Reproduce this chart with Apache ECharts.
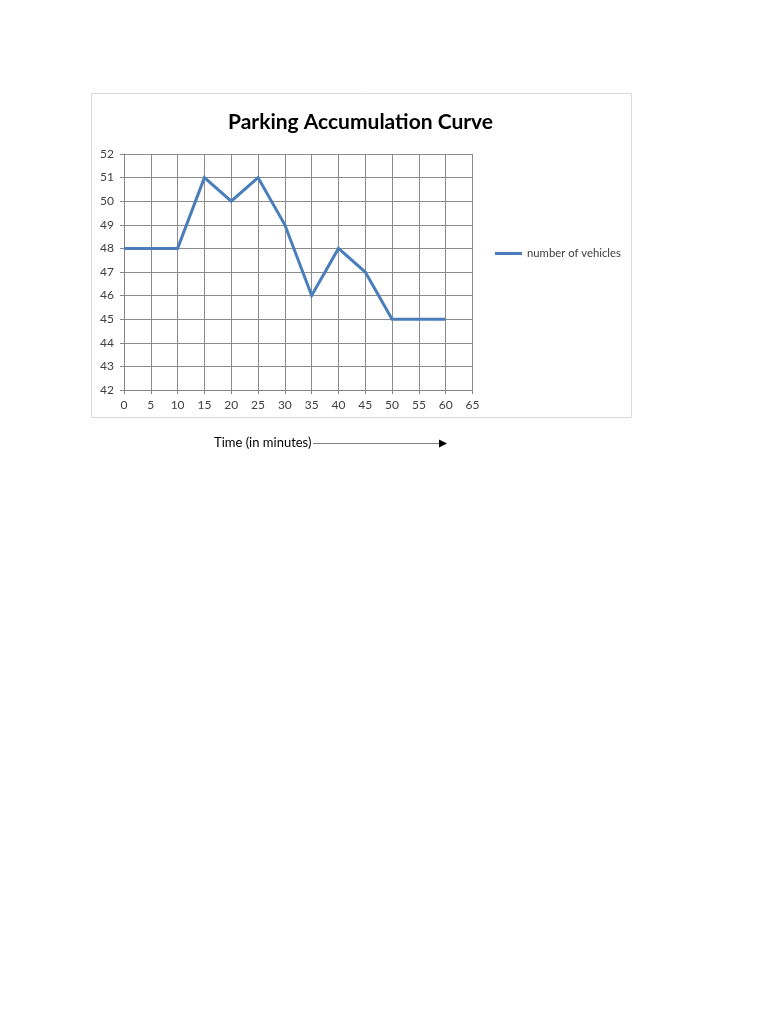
<!DOCTYPE html>
<html>
<head>
<meta charset="utf-8">
<script src="https://cdn.jsdelivr.net/npm/echarts@6/dist/echarts.min.js"></script>
<style>
html,body{margin:0;padding:0;background:#fff;}
#main{width:768px;height:1024px;}
</style>
</head>
<body>
<div id="main"></div>
<script>
const title = "Parking Accumulation Curve";
const seriesName = "number of vehicles";
const xAxisTitle = "Time (in minutes)";
const times = [0, 5, 10, 15, 20, 25, 30, 35, 40, 45, 50, 55, 60];
const vehicles = [48, 48, 48, 51, 50, 51, 49, 46, 48, 47, 45, 45, 45];

const chart = echarts.init(document.getElementById('main'), null, {renderer: 'canvas'});
const fontFam = 'Lato, "Open Sans", sans-serif';
chart.setOption({
  animation: false,
  backgroundColor: '#fff',
  title: {
    text: title,
    left: 228, top: 112,
    padding: 0,
    textStyle: {fontFamily: fontFam, fontSize: 21, fontWeight: 'bold', color: '#000'}
  },
  legend: {
    orient: 'vertical',
    left: 495, top: 248, padding: 0,
    itemWidth: 27, itemHeight: 3, itemGap: 4,
    icon: 'rect',
    textStyle: {fontFamily: fontFam, fontSize: 11.3, color: '#404040'},
    data: [seriesName]
  },
  grid: {left: 124, top: 154, width: 348.5, height: 236, containLabel: false},
  xAxis: {
    type: 'value', min: 0, max: 65, interval: 5,
    axisLine: {show: true, lineStyle: {color: '#868686', width: 1}},
    axisTick: {show: true, length: 4, lineStyle: {color: '#868686'}},
    axisLabel: {fontFamily: fontFam, fontSize: 12, color: '#404040', margin: 9},
    splitLine: {show: true, lineStyle: {color: '#8c8c8c', width: 1}}
  },
  yAxis: {
    type: 'value', min: 42, max: 52, interval: 1,
    axisLine: {show: true, lineStyle: {color: '#868686', width: 1}},
    axisTick: {show: true, length: 4, lineStyle: {color: '#868686'}},
    axisLabel: {fontFamily: fontFam, fontSize: 12, color: '#404040', margin: 10},
    splitLine: {show: true, lineStyle: {color: '#8c8c8c', width: 1}}
  },
  series: [{
    name: seriesName,
    type: 'line',
    data: times.map((t, i) => [t, vehicles[i]]),
    showSymbol: false,
    symbol: 'none',
    lineStyle: {color: '#4a7ebb', width: 3, join: 'miter'},
    itemStyle: {color: '#4a7ebb'}
  }],
  graphic: [
    {type: 'rect', z: -10, shape: {x: 91.5, y: 93.5, width: 540, height: 324},
     style: {fill: '#fff', stroke: '#d9d9d9', lineWidth: 1}},
    {type: 'text', left: 214, top: 436,
     style: {text: xAxisTitle, font: '13px ' + fontFam, fill: '#000'}},
    {type: 'line', shape: {x1: 313, y1: 443.5, x2: 440, y2: 443.5},
     style: {stroke: '#808080', lineWidth: 1}},
    {type: 'polygon', shape: {points: [[439, 439.5], [447, 443.5], [439, 447.5]]},
     style: {fill: '#000'}}
  ]
});
</script>
</body>
</html>
